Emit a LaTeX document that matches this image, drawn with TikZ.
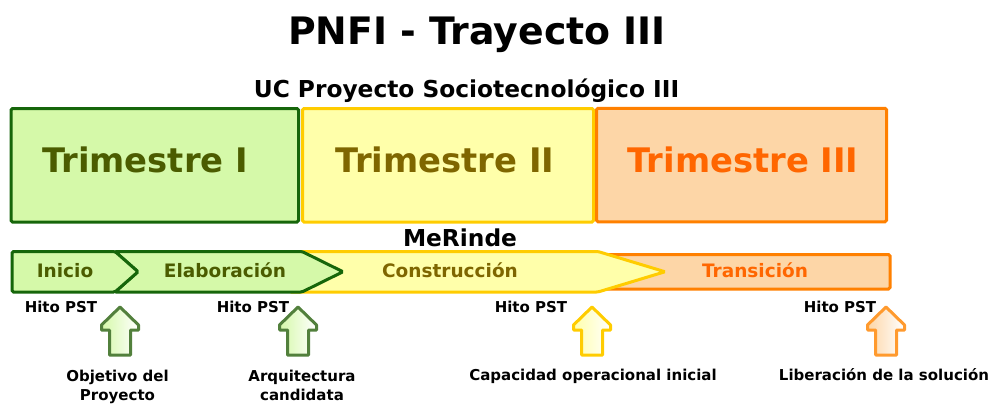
\documentclass[tikz,border=0pt]{standalone}
\usepackage{fontspec}
\setmainfont{DejaVu Sans}
\usepackage{xcolor}
\usepackage{tikz}
\usetikzlibrary{positioning}
\definecolor{verdeB}{HTML}{16660A}
\definecolor{verdeF}{HTML}{D5F9A9}
\definecolor{verdeT}{HTML}{4B5C00}
\definecolor{amariB}{HTML}{FFCC00}
\definecolor{amariF}{HTML}{FFFFAA}
\definecolor{amariT}{HTML}{7F6600}
\definecolor{naranB}{HTML}{FF8000}
\definecolor{naranF}{HTML}{FDD6A7}
\definecolor{naranT}{HTML}{FF6600}
\definecolor{flechaV}{HTML}{52803C}
\definecolor{flechaN}{HTML}{FF9A2E}
\tikzset{
    tbox/.style = {draw, line width=3pt, rounded corners=1.5pt, inner sep=0},
    fase/.style = {draw, line width=3pt, rounded corners=1.5pt},
    titulo/.style = {anchor=base, font=\bfseries\fontsize{37.8}{40}\selectfont},
    sub/.style = {anchor=base, font=\bfseries\fontsize{23.3}{26}\selectfont},
    ttext/.style = {anchor=base, font=\bfseries\fontsize{33.8}{36}\selectfont},
    ftext/.style = {anchor=base, font=\bfseries\fontsize{18.5}{20}\selectfont},
    hito/.style = {anchor=base, font=\bfseries\fontsize{15}{17}\selectfont},
    desc/.style = {anchor=base, align=center, font=\bfseries\fontsize{15}{19}\selectfont},
    flecha/.style = {line width=3pt, line join=round}
}
% flecha de hito: centro x, borde, color de la izquierda
\newcommand{\hitoflecha}[4]{%
  \path[flecha, draw=#2, left color=#3, right color=white] (#1,307) -- (#1+18.5,325) -- (#1+18.5,330)
    -- (#1+10.5,330) -- (#1+10.5,355) -- (#1-10.5,355) -- (#1-10.5,330) -- (#1-18.5,330)
    -- (#1-18.5,325) -- cycle;
  \coordinate (#4) at (#1,305);
}
\begin{document}
\begin{tikzpicture}[x=1pt, y=-1pt]
\useasboundingbox (0,0) rectangle (992,404);
%
\node[titulo] (tit) at (477,44.5) {PNFI - Trayecto III};
\node[sub] (uc) at (466.5,97) {UC Proyecto Sociotecnológico III};
%
\node[tbox, draw=verdeB, fill=verdeF, minimum width=287.5, minimum height=113.5] (t1) at (154.75,165.25) {};
\node[tbox, draw=amariB, fill=amariF, minimum width=291, minimum height=113.5] (t2) at (448,165.25) {};
\node[tbox, draw=naranB, fill=naranF, minimum width=290, minimum height=113.5] (t3) at (741.5,165) {};
\node[ttext, text=verdeT] (l1) at (145,172) {Trimestre I};
\node[ttext, text=amariT] (l2) at (445,172) {Trimestre II};
\node[ttext, text=naranT] (l3) at (743,172) {Trimestre III};
%
\node[sub] (mer) at (460,246) {MeRinde};
%
\path[fase, draw=naranB, fill=naranF] (590,254.5) rectangle (890,289);
\path[fase, draw=amariB, fill=amariF] (290,251.5) -- (598,251.5) -- (665,271.75) -- (598,292) -- (290,292) -- cycle;
\path[fase, draw=verdeB, fill=verdeF] (115,251.5) -- (302,251.5) -- (343,271.75) -- (302,292) -- (115,292) -- (138,271.75) -- cycle;
\path[fase, draw=verdeB, fill=verdeF] (12,251.5) -- (115,251.5) -- (138,271.75) -- (115,292) -- (12,292) -- cycle;
\node[ftext, text=verdeT] (ini) at (65,277) {Inicio};
\node[ftext, text=verdeT] (ela) at (225,277) {Elaboración};
\node[ftext, text=amariT] (con) at (450,277) {Construcción};
\node[ftext, text=naranT] (tra) at (755,277) {Transición};
%
\node[hito] (h1) at (61,312) {Hito PST};
\node[hito] (h2) at (253,312) {Hito PST};
\node[hito] (h3) at (531,312) {Hito PST};
\node[hito] (h4) at (840,312) {Hito PST};
%
\hitoflecha{120}{flechaV}{verdeF}{f1}
\hitoflecha{298}{flechaV}{verdeF}{f2}
\hitoflecha{592}{amariB}{amariF}{f3}
\hitoflecha{886}{flechaN}{naranF}{f4}
%
\node[desc] (d1) at (117.5,400) {Objetivo del\\Proyecto};
\node[desc] (d2) at (302,400) {Arquitectura\\candidata};
\node[desc] (d3) at (593,380) {Capacidad operacional inicial};
\node[desc] (d4) at (884,380) {Liberación de la solución};
\end{tikzpicture}
\end{document}
